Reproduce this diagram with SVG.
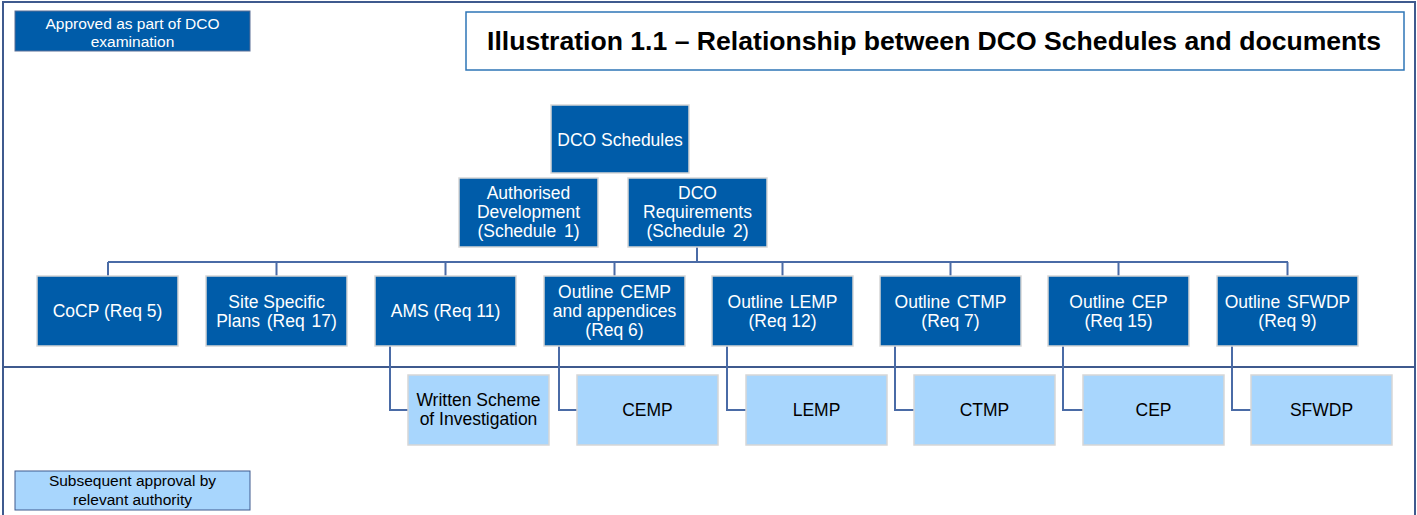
<svg xmlns="http://www.w3.org/2000/svg" width="1417" height="515" viewBox="0 0 1417 515">
<style>
.dk{fill:#005CA9;stroke:#D6D6D6;stroke-width:1.5}
.lt{fill:#A8D6FD;stroke:#D6D6D6;stroke-width:1.5}
.tw{fill:#FFFFFF;font-family:"Liberation Sans",Arial,sans-serif;font-size:17.5px;text-anchor:middle}
.tb{fill:#000000;font-family:"Liberation Sans",Arial,sans-serif;font-size:17.5px;text-anchor:middle}
.lg{font-family:"Liberation Sans",Arial,sans-serif;font-size:15.5px;text-anchor:middle}
.con{fill:none;stroke:#4A6BA6;stroke-width:2}
.frame{fill:none;stroke:#3F5A8E;stroke-width:2}
</style>
<rect x="0" y="0" width="1417" height="515" fill="#FFFFFF"/>
<g id="frame">
<rect class="frame" x="3" y="2" width="1412" height="520"/>
<line class="frame" x1="3" y1="367" x2="1415" y2="367"/>
</g>
<g id="legend-approved">
<rect x="15" y="11" width="235" height="40" fill="#005CA9" stroke="#5A6E96" stroke-width="1"/>
<text class="lg" x="132.5" y="28.5" fill="#FFFFFF">Approved as part of DCO</text>
<text class="lg" x="132.5" y="47" fill="#FFFFFF">examination</text>
</g>
<g id="title">
<rect x="466" y="12" width="938" height="58" fill="#FFFFFF" stroke="#2E75B6" stroke-width="1.5"/>
<text x="934" y="50" font-family="Liberation Sans,Arial,sans-serif" font-size="26" font-weight="bold" text-anchor="middle" textLength="894" lengthAdjust="spacingAndGlyphs">Illustration 1.1 – Relationship between DCO Schedules and documents</text>
</g>
<g id="connectors">
<path class="con" d="M697 247V262M108 262H1288M108 262V276M276.5 262V276M445.5 262V276M614.5 262V276M782.5 262V276M950.5 262V276M1118.5 262V276M1287.5 262V276"/>
<path class="con" d="M390 346V410H408M559 346V410H577M727 346V410H746M895 346V410H914M1063 346V410H1083M1232 346V410H1251"/>
</g>
<g id="dco-schedules">
<rect class="dk" x="551" y="105" width="138" height="68"/>
<text class="tw" x="620" y="145.5" font-size="18.5">DCO Schedules</text>
</g>
<g id="authorised-development">
<rect class="dk" x="459" y="178" width="139" height="69"/>
<text class="tw" x="528.5" y="199">Authorised</text>
<text class="tw" x="528.5" y="218">Development</text>
<text class="tw" x="528.5" y="237" word-spacing="3">(Schedule 1)</text>
</g>
<g id="dco-requirements">
<rect class="dk" x="628" y="178" width="139" height="69"/>
<text class="tw" x="697.5" y="199">DCO</text>
<text class="tw" x="697.5" y="218">Requirements</text>
<text class="tw" x="697.5" y="237" word-spacing="3">(Schedule 2)</text>
</g>
<g id="cocp">
<rect class="dk" x="37" y="276" width="141" height="70"/>
<text class="tw" x="107.5" y="317">CoCP (Req 5)</text>
</g>
<g id="site-specific">
<rect class="dk" x="206" y="276" width="141" height="70"/>
<text class="tw" x="276.5" y="308">Site Specific</text>
<text class="tw" x="276.5" y="327" word-spacing="2">Plans (Req 17)</text>
</g>
<g id="ams">
<rect class="dk" x="375" y="276" width="141" height="70"/>
<text class="tw" x="445.5" y="317">AMS (Req 11)</text>
</g>
<g id="outline-cemp">
<rect class="dk" x="544" y="276" width="141" height="70"/>
<text class="tw" x="614.5" y="298" word-spacing="2">Outline CEMP</text>
<text class="tw" x="614.5" y="317">and appendices</text>
<text class="tw" x="614.5" y="336">(Req 6)</text>
</g>
<g id="outline-lemp">
<rect class="dk" x="712" y="276" width="141" height="70"/>
<text class="tw" x="782.5" y="308" word-spacing="2">Outline LEMP</text>
<text class="tw" x="782.5" y="327">(Req 12)</text>
</g>
<g id="outline-ctmp">
<rect class="dk" x="880" y="276" width="141" height="70"/>
<text class="tw" x="950.5" y="308" word-spacing="2">Outline CTMP</text>
<text class="tw" x="950.5" y="327">(Req 7)</text>
</g>
<g id="outline-cep">
<rect class="dk" x="1048" y="276" width="141" height="70"/>
<text class="tw" x="1118.5" y="308" word-spacing="2">Outline CEP</text>
<text class="tw" x="1118.5" y="327">(Req 15)</text>
</g>
<g id="outline-sfwdp">
<rect class="dk" x="1217" y="276" width="141" height="70"/>
<text class="tw" x="1287.5" y="308" word-spacing="2">Outline SFWDP</text>
<text class="tw" x="1287.5" y="327">(Req 9)</text>
</g>
<g id="wsi">
<rect class="lt" x="408" y="375" width="141" height="70"/>
<text class="tb" x="478.5" y="406">Written Scheme</text>
<text class="tb" x="478.5" y="425">of Investigation</text>
</g>
<g id="cemp">
<rect class="lt" x="577" y="375" width="141" height="70"/>
<text class="tb" x="647.5" y="416">CEMP</text>
</g>
<g id="lemp">
<rect class="lt" x="746" y="375" width="141" height="70"/>
<text class="tb" x="816.5" y="416">LEMP</text>
</g>
<g id="ctmp">
<rect class="lt" x="914" y="375" width="141" height="70"/>
<text class="tb" x="984.5" y="416">CTMP</text>
</g>
<g id="cep">
<rect class="lt" x="1083" y="375" width="141" height="70"/>
<text class="tb" x="1153.5" y="416">CEP</text>
</g>
<g id="sfwdp">
<rect class="lt" x="1251" y="375" width="141" height="70"/>
<text class="tb" x="1321.5" y="416">SFWDP</text>
</g>
<g id="legend-subsequent">
<rect x="15" y="471" width="235" height="39" fill="#A8D6FD" stroke="#3F5A8E" stroke-width="1"/>
<text class="lg" x="132.5" y="486" fill="#000000">Subsequent approval by</text>
<text class="lg" x="132.5" y="505" fill="#000000">relevant authority</text>
</g>
</svg>
